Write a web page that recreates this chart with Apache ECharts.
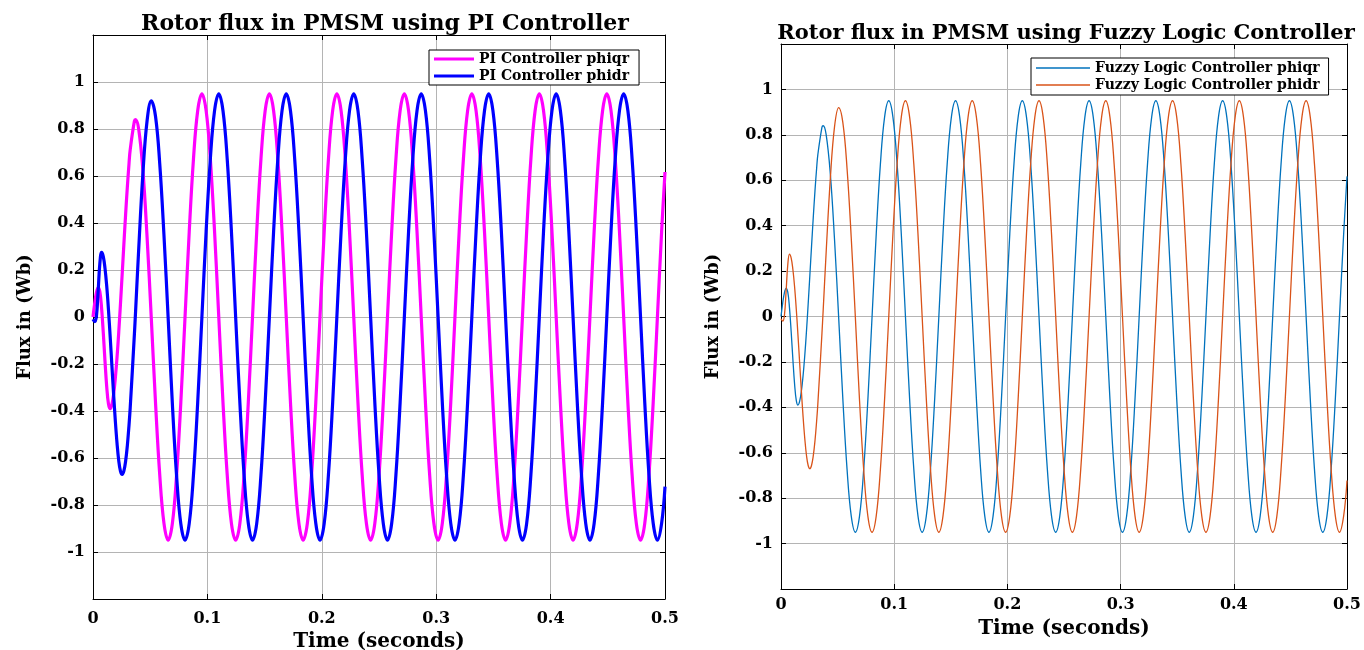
<!DOCTYPE html>
<html>
<head>
<meta charset="utf-8">
<script src="https://cdn.jsdelivr.net/npm/echarts@6/dist/echarts.min.js"></script>
<style>
html,body{margin:0;padding:0;background:#fff;}
#chart{width:1364px;height:650px;}
</style>
</head>
<body>
<div id="chart"></div>
<script>
// ---- Data (time in seconds, flux in Wb) ----
const titles = ['Rotor flux in PMSM using PI Controller', 'Rotor flux in PMSM using Fuzzy Logic Controller'];
const seriesNamesPI = ['PI Controller phiqr', 'PI Controller phidr'];
const seriesNamesFuzzy = ['Fuzzy Logic Controller phiqr', 'Fuzzy Logic Controller phidr'];
const xTicks = [0, 0.1, 0.2, 0.3, 0.4, 0.5];
const yTicks = [-1, -0.8, -0.6, -0.4, -0.2, 0, 0.2, 0.4, 0.6, 0.8, 1];

const time = [
  0, 0.0015, 0.003, 0.0045, 0.006, 0.0075, 0.009, 0.0105, 0.012, 0.0135, 0.015, 0.0165, 0.018, 0.0195, 0.021, 0.0225,
  0.024, 0.0255, 0.027, 0.0285, 0.030, 0.0315, 0.03252, 0.0362, 0.0372, 0.03989, 0.04358, 0.04727, 0.05095, 0.05464, 0.05833, 0.06201,
  0.06570, 0.06939, 0.07307, 0.07676, 0.08045, 0.08413, 0.08782, 0.09151, 0.09520, 0.09888, 0.10257, 0.10626, 0.10994, 0.11363, 0.11732, 0.12100,
  0.12469, 0.12838, 0.13206, 0.13575, 0.13944, 0.14312, 0.14681, 0.15050, 0.15418, 0.15787, 0.16156, 0.16524, 0.16893, 0.17262, 0.17631, 0.17999,
  0.18368, 0.18737, 0.19105, 0.19474, 0.19843, 0.20211, 0.20580, 0.20949, 0.21317, 0.21686, 0.22055, 0.22423, 0.22792, 0.23161, 0.23529, 0.23898,
  0.24267, 0.24635, 0.25004, 0.25373, 0.25741, 0.26110, 0.26479, 0.26847, 0.27216, 0.27585, 0.27953, 0.28322, 0.28691, 0.29059, 0.29428, 0.29797,
  0.30166, 0.30534, 0.30903, 0.31272, 0.31640, 0.32009, 0.32378, 0.32746, 0.33115, 0.33484, 0.33852, 0.34221, 0.34590, 0.34958, 0.35327, 0.35696,
  0.36064, 0.36433, 0.36802, 0.37170, 0.37539, 0.37908, 0.38276, 0.38645, 0.39014, 0.39382, 0.39751, 0.40120, 0.40488, 0.40857, 0.41226, 0.41594,
  0.41963, 0.42332, 0.42701, 0.43069, 0.43438, 0.43807, 0.44175, 0.44544, 0.44913, 0.45281, 0.45650, 0.46019, 0.46387, 0.46756, 0.47125, 0.47493,
  0.47862, 0.48231, 0.48599, 0.48968, 0.49337, 0.49705, 0.5
];

const phiqr = [
  0, 0.059, 0.104, 0.124, 0.107, 0.038, -0.068, -0.189, -0.297, -0.369, -0.390, -0.373, -0.329, -0.261, -0.172, -0.065,
  0.055, 0.182, 0.311, 0.436, 0.552, 0.654, 0.712, 0.834, 0.840, 0.801, 0.627, 0.340, -0.005, -0.364, -0.671, -0.877,
  -0.95, -0.878, -0.672, -0.364, 0, 0.364, 0.672, 0.878, 0.95, 0.878, 0.672, 0.364, 0, -0.364, -0.672, -0.878,
  -0.95, -0.878, -0.672, -0.364, 0, 0.364, 0.672, 0.878, 0.95, 0.878, 0.672, 0.364, 0, -0.364, -0.672, -0.878,
  -0.95, -0.878, -0.672, -0.364, 0, 0.364, 0.672, 0.878, 0.95, 0.878, 0.672, 0.364, 0, -0.364, -0.672, -0.878,
  -0.95, -0.878, -0.672, -0.364, 0, 0.364, 0.672, 0.878, 0.95, 0.878, 0.672, 0.364, 0, -0.364, -0.672, -0.878,
  -0.95, -0.878, -0.672, -0.364, 0, 0.364, 0.672, 0.878, 0.95, 0.878, 0.672, 0.364, 0, -0.364, -0.672, -0.878,
  -0.95, -0.878, -0.672, -0.364, 0, 0.364, 0.672, 0.878, 0.95, 0.878, 0.672, 0.364, 0, -0.364, -0.672, -0.878,
  -0.95, -0.878, -0.672, -0.364, 0, 0.364, 0.672, 0.878, 0.95, 0.878, 0.672, 0.364, 0, -0.364, -0.672, -0.878,
  -0.95, -0.878, -0.672, -0.364, 0, 0.364, 0.617
];

const phidr = [
  -0.010, -0.020, 0.004, 0.110, 0.229, 0.275, 0.257, 0.207, 0.131, 0.032, -0.083, -0.206, -0.328, -0.441, -0.537, -0.611,
  -0.656, -0.670, -0.655, -0.614, -0.548, -0.459, -0.387, -0.072, 0.022, 0.283, 0.607, 0.835, 0.920, 0.854, 0.653, 0.350,
  -0.005, -0.371, -0.676, -0.880, -0.95, -0.878, -0.672, -0.364, 0, 0.364, 0.672, 0.878, 0.95, 0.878, 0.672, 0.364,
  0, -0.364, -0.672, -0.878, -0.95, -0.878, -0.672, -0.364, 0, 0.364, 0.672, 0.878, 0.95, 0.878, 0.672, 0.364,
  0, -0.364, -0.672, -0.878, -0.95, -0.878, -0.672, -0.364, 0, 0.364, 0.672, 0.878, 0.95, 0.878, 0.672, 0.364,
  0, -0.364, -0.672, -0.878, -0.95, -0.878, -0.672, -0.364, 0, 0.364, 0.672, 0.878, 0.95, 0.878, 0.672, 0.364,
  0, -0.364, -0.672, -0.878, -0.95, -0.878, -0.672, -0.364, 0, 0.364, 0.672, 0.878, 0.95, 0.878, 0.672, 0.364,
  0, -0.364, -0.672, -0.878, -0.95, -0.878, -0.672, -0.364, 0, 0.364, 0.672, 0.878, 0.95, 0.878, 0.672, 0.364,
  0, -0.364, -0.672, -0.878, -0.95, -0.878, -0.672, -0.364, 0, 0.364, 0.672, 0.878, 0.95, 0.878, 0.672, 0.364,
  0, -0.364, -0.672, -0.878, -0.95, -0.878, -0.722
];

// ---- Chart ----
const FONT = "'DejaVu Serif', serif";
const pairs = (vals) => time.map((t, i) => [t, vals[i]]);
const yLabel = (v) => {
  const r = parseFloat(Number(v).toFixed(1));
  return yTicks.indexOf(r) >= 0 ? String(r) : '';
};
const xLabel = (v) => {
  const r = parseFloat(Number(v).toFixed(1));
  return xTicks.indexOf(r) >= 0 ? String(r) : '';
};

const grids = [
  {left: 93, top: 35, width: 572, height: 564, outerBoundsMode: 'none', containLabel: false},
  {left: 781, top: 44, width: 566, height: 545, outerBoundsMode: 'none', containLabel: false}
];

const axisLineStyle = {show: true, onZero: false, lineStyle: {color: '#000', width: 1}};
const tickStyle = {show: true, inside: true, length: 5, lineStyle: {color: '#000'}};

function xAxes(gi, labelMargin, nameGap) {
  return [{
    type: 'value', gridIndex: gi, position: 'bottom', min: 0, max: 0.5, interval: 0.1,
    axisLine: axisLineStyle, axisTick: tickStyle,
    axisLabel: {formatter: xLabel, fontFamily: FONT, fontWeight: 'bold', fontSize: 16, color: '#000', margin: labelMargin},
    splitLine: {show: true, lineStyle: {color: '#b4b4b4', width: 1}},
    name: 'Time (seconds)', nameLocation: 'middle', nameGap: nameGap,
    nameTextStyle: {fontFamily: FONT, fontWeight: 'bold', fontSize: 20, color: '#000'}
  }, {
    type: 'value', gridIndex: gi, position: 'top', min: 0, max: 0.5, interval: 0.1,
    axisLine: axisLineStyle, axisTick: tickStyle,
    axisLabel: {show: false}, splitLine: {show: false}
  }];
}
function yAxes(gi, nameGap) {
  return [{
    type: 'value', gridIndex: gi, position: 'left', min: -1.2, max: 1.2, interval: 0.2,
    axisLine: axisLineStyle, axisTick: tickStyle,
    axisLabel: {formatter: yLabel, fontFamily: FONT, fontWeight: 'bold', fontSize: 16, color: '#000', margin: 8},
    splitLine: {show: true, lineStyle: {color: '#b4b4b4', width: 1}},
    name: 'Flux in (Wb)', nameLocation: 'middle', nameGap: nameGap, nameRotate: 90,
    nameTextStyle: {fontFamily: FONT, fontWeight: 'bold', fontSize: 18, color: '#000'}
  }, {
    type: 'value', gridIndex: gi, position: 'right', min: -1.2, max: 1.2, interval: 0.2,
    axisLine: axisLineStyle, axisTick: tickStyle,
    axisLabel: {show: false}, splitLine: {show: false}
  }];
}

function lineSeries(name, vals, color, width, xi, yi) {
  return {
    type: 'line', name: name, data: pairs(vals), xAxisIndex: xi, yAxisIndex: yi,
    showSymbol: false, symbol: 'none', smooth: 0.4, animation: false,
    lineStyle: {color: color, width: width}, itemStyle: {color: color}
  };
}

const legendBase = {
  orient: 'vertical', icon: 'rect',
  borderColor: '#000', borderWidth: 1, backgroundColor: '#fff',
  textStyle: {fontFamily: FONT, fontWeight: 'bold', fontSize: 14, color: '#000'}
};

const option = {
  backgroundColor: '#fff',
  animation: false,
  title: [
    {text: titles[0], left: 380, top: 8, textAlign: 'center',
     textStyle: {fontFamily: FONT, fontWeight: 'bold', fontSize: 22, color: '#000'}},
    {text: titles[1], left: 1061, top: 18, textAlign: 'center',
     textStyle: {fontFamily: FONT, fontWeight: 'bold', fontSize: 21, color: '#000'}}
  ],
  legend: [
    Object.assign({}, legendBase, {data: seriesNamesPI, left: 429, top: 50, itemWidth: 40, itemHeight: 3, itemGap: 3, padding: [2, 10, 2, 5]}),
    Object.assign({}, legendBase, {data: seriesNamesFuzzy, left: 1031, top: 58, itemWidth: 54, itemHeight: 1.5, itemGap: 3, padding: [3, 9, 3, 5]})
  ],
  grid: grids,
  xAxis: xAxes(0, 12, 28).concat(xAxes(1, 8, 30)),
  yAxis: yAxes(0, 59).concat(yAxes(1, 59)),
  series: [
    lineSeries(seriesNamesPI[0], phiqr, '#ff00ff', 3.2, 0, 0),
    lineSeries(seriesNamesPI[1], phidr, '#0000ff', 3.2, 0, 0),
    lineSeries(seriesNamesFuzzy[0], phiqr, '#0072bd', 1.3, 2, 2),
    lineSeries(seriesNamesFuzzy[1], phidr, '#d95319', 1.3, 2, 2)
  ]
};

const chart = echarts.init(document.getElementById('chart'), null, {renderer: 'canvas'});
chart.setOption(option);
</script>
</body>
</html>
